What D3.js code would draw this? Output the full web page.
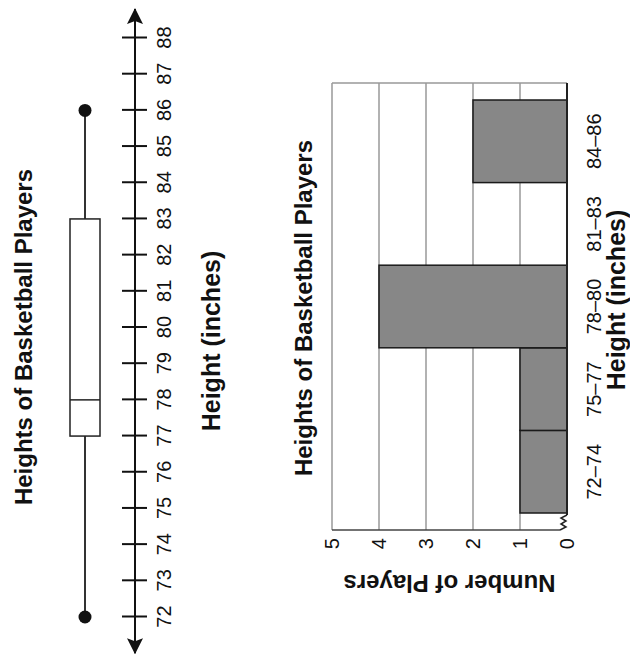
<!DOCTYPE html>
<html>
<head>
<meta charset="utf-8">
<script src="https://cdn.jsdelivr.net/npm/d3@7"></script>
<style>
  body { margin: 0; background: #fff; }
  text { font-family: "Liberation Sans", Arial, sans-serif; fill: #111; }
</style>
</head>
<body>
<div class="visHolder"></div>
<script>
// data
const heightTicks = [72, 73, 74, 75, 76, 77, 78, 79, 80, 81, 82, 83, 84, 85, 86, 87, 88];
const boxKeys = ['min', 'q1', 'median', 'q3', 'max'];
const boxValues = [72, 77, 78, 83, 86];
const binLabels = ['72–74', '75–77', '78–80', '81–83', '84–86'];
const binCounts = [1, 1, 4, 0, 2];
const countTicks = [0, 1, 2, 3, 4, 5];
const chartTitle = 'Heights of Basketball Players';

const W = 630, H = 656;
const box = {};
boxKeys.forEach((k, i) => box[k] = boxValues[i]);

const svg = d3.select('.visHolder').append('svg').attr('width', W).attr('height', H);
// whole picture is drawn upright and then turned a quarter turn
const g = svg.append('g').attr('transform', 'translate(0,' + H + ') rotate(-90)');

//box plot
const x = d3.scaleLinear().domain([72, 88]).range([39, 618]);
const lineY = 135;

const defs = svg.append('defs');
defs.append('marker').attr('id', 'arr').attr('viewBox', '0 0 16 16').attr('refX', 15).attr('refY', 8)
  .attr('markerWidth', 16).attr('markerHeight', 16).attr('markerUnits', 'userSpaceOnUse')
  .attr('orient', 'auto-start-reverse')
  .append('path').attr('d', 'M0,0 L16,8 L0,16 L3,8 Z').attr('fill', '#111');

g.append('line')
  .attr('x1', x(71)).attr('x2', x(88.8)).attr('y1', lineY).attr('y2', lineY)
  .attr('stroke', '#111').attr('stroke-width', 2)
  .attr('marker-start', 'url(#arr)').attr('marker-end', 'url(#arr)');

const axis = g.append('g').attr('transform', 'translate(0,' + lineY + ')')
  .call(d3.axisBottom(x).tickValues(heightTicks).tickSize(12).tickSizeOuter(0));
axis.select('.domain').remove();
axis.selectAll('.tick line').attr('y1', -13).attr('y2', 12).attr('stroke', '#111').attr('stroke-width', 2);
axis.selectAll('.tick text').attr('y', 22).attr('font-size', 20).attr('fill', '#111')
  .style('font-family', '"Liberation Sans", Arial, sans-serif');

const boxTop = 70, boxBot = 100, midY = (boxTop + boxBot) / 2;
g.append('line').attr('x1', x(box.min)).attr('x2', x(box.max)).attr('y1', midY).attr('y2', midY)
  .attr('stroke', '#333').attr('stroke-width', 2);
g.append('rect').attr('x', x(box.q1)).attr('y', boxTop)
  .attr('width', x(box.q3) - x(box.q1)).attr('height', boxBot - boxTop)
  .attr('fill', '#fff').attr('stroke', '#222').attr('stroke-width', 1.5);
g.append('line').attr('x1', x(box.median)).attr('x2', x(box.median)).attr('y1', boxTop).attr('y2', boxBot)
  .attr('stroke', '#222').attr('stroke-width', 1.5);
g.selectAll('circle.end').data([box.min, box.max]).enter().append('circle')
  .attr('class', 'end').attr('cx', d => x(d)).attr('cy', midY).attr('r', 6.5).attr('fill', '#111');

g.append('text').attr('x', 319).attr('y', 32).attr('text-anchor', 'middle')
  .attr('font-size', 24).attr('font-weight', 'bold').text(chartTitle);
g.append('text').attr('x', 315).attr('y', 220).attr('text-anchor', 'middle')
  .attr('font-size', 25).attr('font-weight', 'bold').text('Height (inches)');

//histogram
const left = 126, right = 573;
const xb = d3.scaleBand().domain(binLabels).range([143, 556]).padding(0);
const y = d3.scaleLinear().domain([0, 5]).range([567, 332]);

// grid
g.selectAll('line.grid').data(countTicks.slice(1)).enter().append('line')
  .attr('class', 'grid').attr('x1', left).attr('x2', right)
  .attr('y1', d => y(d)).attr('y2', d => y(d))
  .attr('stroke', '#999').attr('stroke-width', 1.5);
g.append('line').attr('x1', right).attr('x2', right).attr('y1', y(5)).attr('y2', y(0))
  .attr('stroke', '#999').attr('stroke-width', 1.5);

// bars
g.selectAll('rect.bar').data(binCounts).enter().append('rect')
  .attr('class', 'bar')
  .attr('x', (d, i) => xb(binLabels[i]))
  .attr('y', d => y(d))
  .attr('width', xb.bandwidth())
  .attr('height', d => y(0) - y(d))
  .attr('fill', '#878787').attr('stroke', '#1a1a1a').attr('stroke-width', 1.5)
  .style('display', d => d > 0 ? null : 'none');

// axes lines, with the break mark where the count axis meets zero
g.append('line').attr('x1', left + 15).attr('x2', right).attr('y1', y(0)).attr('y2', y(0))
  .attr('stroke', '#222').attr('stroke-width', 2);
g.append('line').attr('x1', left).attr('x2', left).attr('y1', y(5)).attr('y2', y(0) - 7)
  .attr('stroke', '#444').attr('stroke-width', 1.5);
g.append('path')
  .attr('d', 'M' + left + ',' + (y(0) - 7) + ' l3,6 l3,-5 l3,5 l3,-5 l3,6')
  .attr('fill', 'none').attr('stroke', '#222').attr('stroke-width', 1.5);

const yAxis = g.append('g').attr('transform', 'translate(' + left + ',0)')
  .call(d3.axisLeft(y).tickValues(countTicks).tickFormat(d3.format('d')).tickSize(0));
yAxis.select('.domain').remove();
yAxis.selectAll('.tick text').attr('x', -8).attr('font-size', 20).attr('fill', '#111')
  .style('font-family', '"Liberation Sans", Arial, sans-serif');

const xAxis = g.append('g').attr('transform', 'translate(0,' + y(0) + ')')
  .call(d3.axisBottom(xb).tickSize(0));
xAxis.select('.domain').remove();
xAxis.selectAll('.tick text').attr('y', 20).attr('font-size', 20).attr('fill', '#111')
  .style('font-family', '"Liberation Sans", Arial, sans-serif');

g.append('text').attr('x', 348).attr('y', 312).attr('text-anchor', 'middle')
  .attr('font-size', 24).attr('font-weight', 'bold').text(chartTitle);
g.append('text').attr('x', 356).attr('y', 625).attr('text-anchor', 'middle')
  .attr('font-size', 25).attr('font-weight', 'bold').text('Height (inches)');
g.append('text').attr('transform', 'translate(81,' + ((y(0) + y(5)) / 2) + ') rotate(-90)')
  .attr('text-anchor', 'middle').attr('font-size', 24).attr('font-weight', 'bold')
  .text('Number of Players');
</script>
</body>
</html>
